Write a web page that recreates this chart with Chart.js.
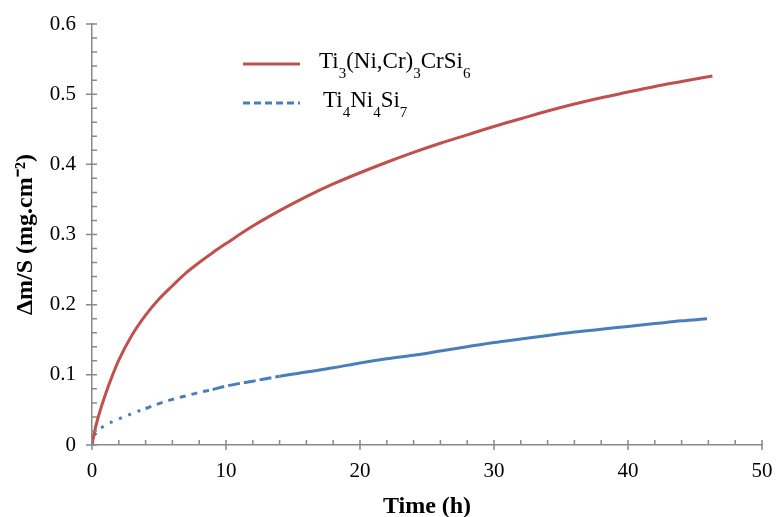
<!DOCTYPE html>
<html>
<head>
<meta charset="utf-8">
<script src="https://cdn.jsdelivr.net/npm/chart.js@4.4.1/dist/chart.umd.min.js"></script>
<style>
  html, body { margin: 0; padding: 0; background: #fff; }
  #wrap { width: 776px; height: 517px; }
</style>
</head>
<body>
<div id="wrap"><canvas id="grafico" width="776" height="517"></canvas></div>
<script>
// values
const seriesNames = ['Ti3(Ni,Cr)3CrSi6', 'Ti4Ni4Si7'];

const timeRed = [0, 0.2, 0.5, 1, 1.5, 2, 3, 4, 5, 6, 7, 8, 9, 10, 12, 14, 16, 18, 20, 22, 24, 26, 28, 30, 32, 34, 36, 38, 40, 42, 44, 46.3];
const massRed = [0, 0.02, 0.042, 0.072, 0.098, 0.121, 0.157, 0.185, 0.208, 0.227, 0.245, 0.26, 0.274, 0.287, 0.312, 0.334, 0.354, 0.372, 0.388, 0.403, 0.417, 0.43, 0.442, 0.454, 0.465, 0.476, 0.486, 0.495, 0.503, 0.511, 0.518, 0.526];

const timeBlue = [0, 0.1, 0.3, 1, 2, 3, 4, 5, 6, 7, 8, 9, 10, 12, 14, 16, 18, 20, 22, 24, 26, 28, 30, 32, 34, 36, 38, 40, 42, 44, 45.9];
const massBlue = [0, 0.009, 0.017, 0.028, 0.037, 0.045, 0.052, 0.059, 0.065, 0.07, 0.075, 0.079, 0.084, 0.091, 0.098, 0.104, 0.11, 0.117, 0.123, 0.128, 0.134, 0.14, 0.146, 0.151, 0.156, 0.161, 0.165, 0.169, 0.173, 0.177, 0.18];

const xTitle = 'Time (h)';
const yTitle = 'Δm/S (mg.cm⁻²)';

const RED = '#C0504D';
const BLUE = '#4A7EBB';
const AXIS = '#898989';
const FONT = '"Liberation Serif", "Times New Roman", serif';

const toPoints = (xs, ys) => xs.map((x, i) => ({ x: x, y: ys[i] }));

// early part of the blue curve is dotted, then dashed, then solid
function blueDash(ctx) {
    const t = ctx.p0.parsed.x;
    if (t < 4) return [3, 7];
    if (t < 9) return [6, 6];
    if (t < 14) return [12, 4];
    return [];
}

// draw a formula with every digit as subscript
function drawFormula(c, text, x, y) {
    const parts = text.split(/(\d+)/);
    parts.forEach(p => {
        if (!p) return;
        const sub = /^\d+$/.test(p);
        c.font = (sub ? '15px ' : '23px ') + FONT;
        c.fillText(p, x, sub ? y + 10 : y);
        x += c.measureText(p).width;
    });
}

const legendPlugin = {
    id: 'formulaLegend',
    afterDraw(chart) {
        const c = chart.ctx;
        const rows = [
            { y: 64, textY: 68, textX: 319, dash: [] },
            { y: 103, textY: 107, textX: 323, dash: [7, 4] }
        ];
        c.save();
        chart.data.datasets.forEach((ds, i) => {
            const r = rows[i];
            c.beginPath();
            c.setLineDash(r.dash);
            c.strokeStyle = ds.borderColor;
            c.lineWidth = 3;
            c.moveTo(243, r.y);
            c.lineTo(300, r.y);
            c.stroke();
            c.setLineDash([]);
            c.fillStyle = '#000';
            c.textBaseline = 'alphabetic';
            c.textAlign = 'left';
            drawFormula(c, ds.label, r.textX, r.textY);
        });
        c.restore();
    }
};

// excel-like ticks: major ones cross the axis, minor ones inside
const tickPlugin = {
    id: 'crossTicks',
    afterDraw(chart) {
        const c = chart.ctx;
        const xs = chart.scales.x, ys = chart.scales.y;
        const area = chart.chartArea;
        c.save();
        c.strokeStyle = AXIS;
        c.lineWidth = 1.5;
        c.beginPath();
        for (let v = 0; v <= 50; v += 2) {
            const px = xs.getPixelForValue(v);
            const major = v % 10 === 0;
            c.moveTo(px, area.bottom - 5);
            c.lineTo(px, area.bottom + (major ? 5 : 0));
        }
        for (let k = 0; k <= 30; k++) {
            const py = ys.getPixelForValue(k * 0.02);
            const major = k % 5 === 0;
            c.moveTo(area.left + 5, py);
            c.lineTo(area.left - (major ? 6 : 0), py);
        }
        c.stroke();
        c.restore();
    }
};

const ctx = document.getElementById('grafico').getContext('2d');
new Chart(ctx, {
    type: 'line',
    data: {
        datasets: [{
            label: seriesNames[0],
            data: toPoints(timeRed, massRed),
            borderColor: RED,
            borderWidth: 3,
            pointRadius: 0,
            fill: false,
            cubicInterpolationMode: 'monotone'
        }, {
            label: seriesNames[1],
            data: toPoints(timeBlue, massBlue),
            borderColor: BLUE,
            borderWidth: 3,
            pointRadius: 0,
            fill: false,
            cubicInterpolationMode: 'monotone',
            segment: { borderDash: blueDash }
        }]
    },
    options: {
        responsive: false,
        animation: false,
        layout: { padding: { left: 0, right: 14, top: 24, bottom: 0 } },
        plugins: {
            legend: { display: false },
            tooltip: { enabled: false }
        },
        scales: {
            x: {
                type: 'linear',
                min: 0,
                max: 50,
                ticks: { stepSize: 10, color: '#000', padding: 14, font: { family: FONT, size: 21 } },
                grid: { display: true, drawOnChartArea: false, drawTicks: false },
                border: { color: AXIS, width: 1.5 },
                title: { display: true, text: xTitle, color: '#000', font: { family: FONT, size: 24, weight: 'bold', lineHeight: 0.84 }, padding: { top: 0, bottom: 0 } },
                afterFit(scale) { scale.height = 72; scale.paddingRight = 0; scale.paddingLeft = 0; }
            },
            y: {
                min: 0,
                max: 0.6,
                ticks: { stepSize: 0.1, color: '#000', padding: 16, font: { family: FONT, size: 21 } },
                grid: { display: true, drawOnChartArea: false, drawTicks: false },
                border: { color: AXIS, width: 1.5 },
                title: { display: true, text: yTitle, color: '#000', font: { family: FONT, size: 24, weight: 'bold', lineHeight: 1 }, padding: { top: 14, bottom: 0 } },
                afterFit(scale) { scale.width = 92; scale.paddingTop = 0; scale.paddingBottom = 0; }
            }
        }
    },
    plugins: [tickPlugin, legendPlugin]
});
</script>
</body>
</html>
